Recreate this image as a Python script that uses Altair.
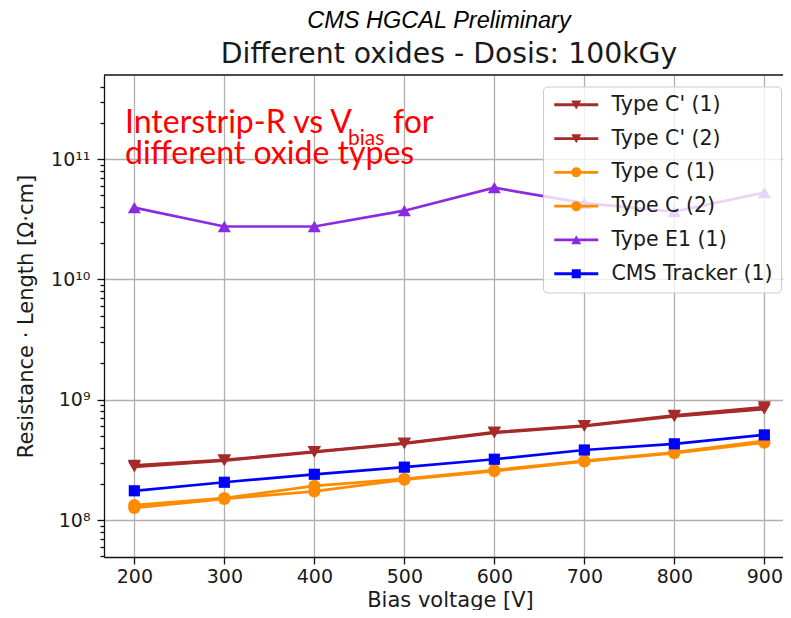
import altair as alt
import pandas as pd

# ---------------- data ----------------
voltages = [200, 300, 400, 500, 600, 700, 800, 900]

series_names = ["Type C' (1)", "Type C' (2)", "Type C (1)", "Type C (2)", "Type E1 (1)", "CMS Tracker (1)"]

type_c_prime_1 = [2.85e8, 3.16e8, 3.70e8, 4.36e8, 5.37e8, 6.10e8, 7.40e8, 8.70e8]
type_c_prime_2 = [2.76e8, 3.12e8, 3.67e8, 4.32e8, 5.30e8, 6.04e8, 7.25e8, 8.35e8]
type_c_1 = [1.33e8, 1.52e8, 1.92e8, 2.20e8, 2.60e8, 3.10e8, 3.65e8, 4.55e8]
type_c_2 = [1.26e8, 1.50e8, 1.73e8, 2.17e8, 2.55e8, 3.07e8, 3.60e8, 4.40e8]
type_e1_1 = [3.95e10, 2.75e10, 2.75e10, 3.72e10, 5.78e10, 4.30e10, 3.66e10, 5.26e10]
cms_tracker_1 = [1.75e8, 2.06e8, 2.40e8, 2.75e8, 3.20e8, 3.82e8, 4.30e8, 5.10e8]

series_values = [type_c_prime_1, type_c_prime_2, type_c_1, type_c_2, type_e1_1, cms_tracker_1]

x_ticks = [200, 300, 400, 500, 600, 700, 800, 900]
y_major_ticks = [1e8, 1e9, 1e10, 1e11]
y_major_labels = ["10⁸", "10⁹", "10¹⁰", "10¹¹"]

title_text = "Different oxides - Dosis: 100kGy"
header_text = "CMS HGCAL Preliminary"
x_title = "Bias voltage [V]"
y_title = "Resistance · Length [Ω·cm]"
note_line1 = "Interstrip-R vs V"
note_sub = "bias"
note_for = "for"
note_line2 = "different oxide types"

# ---------------- styles ----------------
colors = ["#a52a2a", "#a52a2a", "#ff8c00", "#ff8c00", "#8a2be2", "#0000ff"]
shapes = ["triangle-down", "triangle-down", "circle", "circle", "triangle-up", "square"]
marker_sizes = [170, 170, 150, 150, 170, 125]

W, H = 679, 482
X_DOMAIN = [166.3, 166.3 + W / 0.9]
Y_DOMAIN = [4.93e7, 4.99e11]
SPINE = "#111111"


def legend_path(kind, cx=3.0, half=4.4, t=0.28):
    line = f"M{cx-half},{-t}H{cx+half}V{t}H{cx-half}Z"
    if kind == "triangle-down":
        m = f"M{cx-1},-0.85L{cx+1},-0.85L{cx},0.95Z"
    elif kind == "triangle-up":
        m = f"M{cx-1},0.85L{cx},-0.95L{cx+1},0.85Z"
    elif kind == "square":
        m = f"M{cx-0.9},-0.9H{cx+0.9}V0.9H{cx-0.9}Z"
    else:
        m = f"M{cx-1},0A1,1,0,1,1,{cx+1},0A1,1,0,1,1,{cx-1},0Z"
    return line + m


legend_paths = [legend_path(s) for s in shapes]

rows = []
for name, vals in zip(series_names, series_values):
    for v, r in zip(voltages, vals):
        rows.append({"series": name, "voltage": v, "value": r})
df = pd.DataFrame(rows)

# y ticks: majors + minors
y_minor_ticks = []
for d in range(7, 12):
    for m in range(2, 10):
        val = m * 10.0 ** d
        if Y_DOMAIN[0] <= val <= Y_DOMAIN[1]:
            y_minor_ticks.append(val)
y_all_ticks = sorted(y_major_ticks + y_minor_ticks)

major_test = " || ".join(f"abs(datum.value / {v:.0f} - 1) < 1e-6" for v in y_major_ticks)
label_expr = ""
for v, lab in zip(y_major_ticks, y_major_labels):
    label_expr += f"abs(datum.value / {v:.0f} - 1) < 1e-6 ? '{lab}' : "
label_expr += "''"

x_enc = alt.X(
    "voltage:Q",
    scale=alt.Scale(domain=X_DOMAIN, nice=False, zero=False),
    axis=alt.Axis(
        values=x_ticks, title=x_title, grid=True, tickSize=7, labelPadding=3,
        labelFontSize=19, titleFontSize=21, titleFontWeight="normal",
        titleX=346, titleY=49, titleBaseline="alphabetic", titleAlign="center",
        domain=True,
    ),
)
y_enc = alt.Y(
    "value:Q",
    scale=alt.Scale(type="log", domain=Y_DOMAIN, nice=False),
    axis=alt.Axis(
        values=y_all_ticks, title=y_title, labelExpr=label_expr,
        tickSize={"condition": {"test": major_test, "value": 7}, "value": 4},
        gridOpacity={"condition": {"test": major_test, "value": 1}, "value": 0},
        labelPadding=7, labelFontSize=19, titleFontSize=21, titleFontWeight="normal",
        titleX=-71.5, titleY=H / 2, titleAngle=270, titleBaseline="alphabetic",
        titleAlign="center", domain=True,
    ),
)

base = alt.Chart(df)
layers = []
for name, col, shp, sz in zip(series_names, colors, shapes, marker_sizes):
    sub = base.transform_filter(alt.datum.series == name)
    layers.append(sub.mark_line(color=col, strokeWidth=2.7).encode(x=x_enc, y=y_enc))
    layers.append(
        sub.mark_point(shape=shp, color=col, filled=True, size=sz, opacity=1).encode(x=x_enc, y=y_enc)
    )

legend_props = dict(
    title=None, orient="none", legendX=439, legendY=11.5,
    labelFont="DejaVu Sans", labelFontSize=20.5, labelColor="#1a1a1a",
    symbolSize=100, symbolStrokeWidth=0, labelOffset=40,
    rowPadding=12.8, padding=8, fillColor="rgba(255,255,255,0.8)",
    strokeColor="#cccccc", cornerRadius=4, labelLimit=400,
)

legend_layer = base.transform_filter("false").mark_point(filled=True, opacity=1).encode(
    x=x_enc,
    y=y_enc,
    color=alt.Color(
        "series:N",
        scale=alt.Scale(domain=series_names, range=colors),
        legend=alt.Legend(**legend_props),
    ),
    shape=alt.Shape(
        "series:N",
        scale=alt.Scale(domain=series_names, range=legend_paths),
        legend=alt.Legend(**legend_props),
    ),
)

# top spine of the axes frame (right spine lies outside the picture in the reference)
top_spine = alt.Chart(pd.DataFrame({"k": [0]})).mark_rule(color=SPINE, strokeWidth=1.3).encode(
    x=alt.value(0), x2=alt.value(W), y=alt.value(0)
)


def note(text, x, y, size, font="Lato", color="#ff0000", style="normal", align="left"):
    return alt.Chart(pd.DataFrame({"t": [text]})).mark_text(
        font=font, fontSize=size, color=color, fontStyle=style, align=align, baseline="alphabetic"
    ).encode(text="t:N", x=alt.value(x), y=alt.value(y))


notes = [
    note(note_line1, 21, 58, 32),
    note(note_sub, 244, 69.5, 21),
    note(note_for, 289, 58, 32),
    note(note_line2, 21, 89, 32),
    note(header_text, 335, -46.7, 23.5, font="Liberation Sans", color="#000000", style="italic", align="center"),
    note(title_text, 345, -11.7, 28.3, font="DejaVu Sans", color="#1a1a1a", align="center"),
]

chart = alt.layer(*layers, top_spine, legend_layer, *notes).properties(
    width=W,
    height=H,
    autosize=alt.AutoSizeParams(type="none"),
    padding={"left": 96, "top": 67, "right": 0, "bottom": 53},
).configure(background="white").configure_view(
    stroke="transparent", strokeWidth=0
).configure_axis(
    labelFont="DejaVu Sans", titleFont="DejaVu Sans", labelColor="#1a1a1a", titleColor="#1a1a1a",
    tickColor=SPINE, tickWidth=1.3, gridColor="#b0b0b0", gridWidth=1.3,
    domainColor=SPINE, domainWidth=1.3,
)

chart.save("out.html", embed_options={"renderer": "svg", "actions": False})
